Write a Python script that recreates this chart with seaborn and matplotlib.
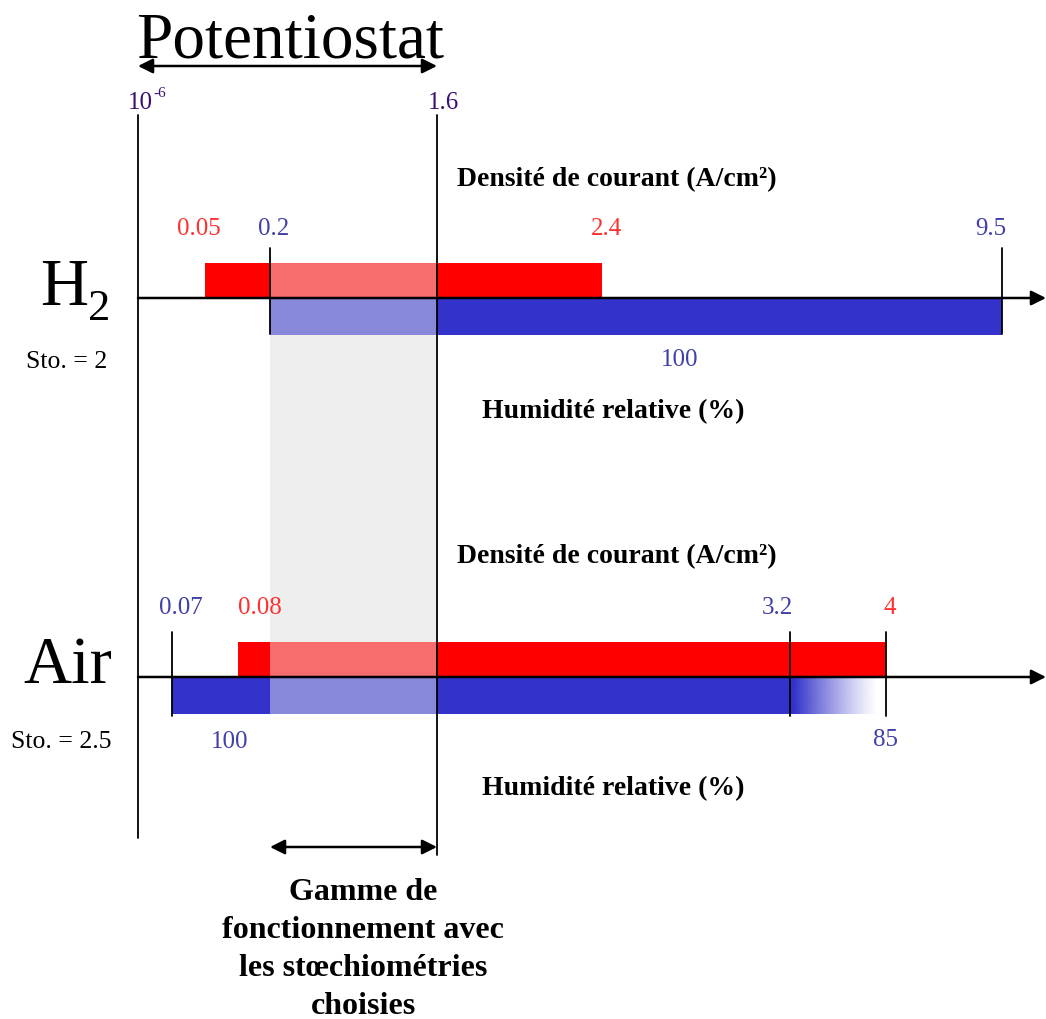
"""
Schéma : plages de fonctionnement H2 / Air (densité de courant et humidité)
"""
import numpy as np
import pandas as pd
import matplotlib
import matplotlib.pyplot as plt
import seaborn as sns

sns.set_theme(style="white")
matplotlib.rcParams['font.family'] = ['Liberation Serif', 'DejaVu Serif']
matplotlib.rcParams['text.color'] = 'black'

# valeurs (texte) affichées sur le schéma
gaz = ["H2", "Air"]
stoechio = ["2", "2.5"]
courant_rouge = [("0.05", "2.4"), ("0.08", "4")]      # A/cm²
courant_bleu = [("0.2", "9.5"), ("0.07", "3.2")]       # A/cm²
humidite = [("100", None), ("100", "85")]              # %
potentiostat = ("10", "-6", "1.6")

# position schématique de chaque valeur sur l'axe (pixels)
pos_rouge = [(205, 602), (238, 886)]
pos_bleu = [(270, 1002), (172, 790)]
pos_fondu = [None, 886]          # fin du dégradé bleu (Air)
x_min, x_max = 138, 437          # bornes du potentiostat
gamme = (270, 437)               # gamme de fonctionnement choisie
y_axe = [298, 677]

ROUGE = '#ff0000'
BLEU = '#3333cc'
TXT_ROUGE = '#ff3030'
TXT_BLEU = '#4040a8'
TXT_VIOLET = '#3a1070'

df = pd.DataFrame({
    'gaz': gaz,
    'y': y_axe,
    'r0': [p[0] for p in pos_rouge], 'r1': [p[1] for p in pos_rouge],
    'b0': [p[0] for p in pos_bleu], 'b1': [p[1] for p in pos_bleu],
})

fig = plt.figure(figsize=(10.46, 10.19), dpi=100)
ax = fig.add_axes([0, 0, 1, 1])

bar_h = 35
arrow_kw = dict(arrowstyle='<|-|>', color='black', lw=1.8, mutation_scale=22,
                shrinkA=0, shrinkB=0)

# colonne grise (gamme choisie)
ax.add_patch(plt.Rectangle((gamme[0], y_axe[0] - bar_h), gamme[1] - gamme[0],
                           y_axe[1] + bar_h + 2 - (y_axe[0] - bar_h),
                           color='#eeeeee', lw=0, zorder=0))

# barres rouges (au-dessus de l'axe) et bleues (en dessous)
ax.barh(df['y'] - bar_h / 2, df['r1'] - df['r0'], left=df['r0'], height=bar_h,
        color=ROUGE, lw=0, zorder=1)
ax.barh(df['y'] + bar_h / 2 + 1, df['b1'] - df['b0'], left=df['b0'], height=bar_h + 2,
        color=BLEU, lw=0, zorder=1)

# dégradé bleu -> blanc pour l'air
for i, xf in enumerate(pos_fondu):
    if xf is None:
        continue
    x0 = pos_bleu[i][1]
    grad = np.zeros((1, 256, 4))
    grad[..., :3] = matplotlib.colors.to_rgb(BLEU)
    t = np.linspace(0, 1, 256)
    grad[0, :, 3] = np.clip(1.05 - t * 1.1, 0, 1) ** 1.2
    ax.imshow(grad, extent=(x0, xf - 4, y_axe[i] + bar_h + 2, y_axe[i]),
              aspect='auto', zorder=1, interpolation='bilinear')

# voile clair sur les barres dans la gamme choisie
ax.add_patch(plt.Rectangle((gamme[0], y_axe[0] - bar_h), gamme[1] - gamme[0],
                           y_axe[1] + bar_h + 2 - (y_axe[0] - bar_h),
                           color='#eeeeee', alpha=0.46, lw=0, zorder=2))

# axes horizontaux avec flèche
for y in y_axe:
    ax.annotate('', xy=(1046, y), xytext=(x_min, y),
                arrowprops=dict(arrowstyle='-|>', color='black', lw=1.8,
                                mutation_scale=22, shrinkA=0, shrinkB=0), zorder=4)

# verticales du potentiostat
ax.plot([x_min, x_min], [115, 838], color='black', lw=1.3, zorder=4)
ax.plot([x_max, x_max], [115, 855], color='black', lw=1.3, zorder=4)

# petites graduations
ax.plot([270, 270], [248, 334], color='black', lw=1.3, zorder=4)
ax.plot([1002, 1002], [248, 334], color='black', lw=1.3, zorder=4)
for x in (172, 790, 886):
    ax.plot([x, x], [632, 716], color='black', lw=1.3, zorder=4)

# flèches Potentiostat et gamme
ax.annotate('', xy=(x_max, 66), xytext=(x_min, 66), arrowprops=arrow_kw)
ax.annotate('', xy=(gamme[1], 847), xytext=(gamme[0], 847), arrowprops=arrow_kw)

# textes
ax.text(290, 57, 'Potentiostat', fontsize=47, ha='center', va='baseline')
ax.text(140, 109, potentiostat[0], fontsize=18, color=TXT_VIOLET, ha='center', va='baseline')
ax.text(153, 97, potentiostat[1], fontsize=11, color=TXT_VIOLET, ha='left', va='baseline')
ax.text(443, 109, potentiostat[2], fontsize=18, color=TXT_VIOLET, ha='center', va='baseline')

y_dens = [186, 563]
y_nums = [235, 614]
y_sto = [368, 748]
y_hum = [418, 795]
x_sto = [67, 61]
for i in range(2):
    ax.text(617, y_dens[i], 'Densité de courant (A/cm²)', fontsize=20,
            fontweight='bold', ha='center', va='baseline')
    ax.text(613, y_hum[i], 'Humidité relative (%)', fontsize=20,
            fontweight='bold', ha='center', va='baseline')
    ax.text(x_sto[i], y_sto[i], f'Sto. = {stoechio[i]}', fontsize=18.5,
            ha='center', va='baseline')

# H2 / Air
ax.text(40, 305, 'H', fontsize=48, ha='left', va='baseline')
ax.text(88, 320, '2', fontsize=32, ha='left', va='baseline')
ax.text(68, 683, 'Air', fontsize=48, ha='center', va='baseline')

# valeurs H2
fs = 18
ax.text(199, y_nums[0], courant_rouge[0][0], fontsize=fs, color=TXT_ROUGE, ha='center', va='baseline')
ax.text(274, y_nums[0], courant_bleu[0][0], fontsize=fs, color=TXT_BLEU, ha='center', va='baseline')
ax.text(606, y_nums[0], courant_rouge[0][1], fontsize=fs, color=TXT_ROUGE, ha='center', va='baseline')
ax.text(991, y_nums[0], courant_bleu[0][1], fontsize=fs, color=TXT_BLEU, ha='center', va='baseline')
ax.text(680, y_sto[0] - 2, humidite[0][0], fontsize=fs, color=TXT_BLEU, ha='center', va='baseline')

# valeurs Air
ax.text(181, y_nums[1], courant_bleu[1][0], fontsize=fs, color=TXT_BLEU, ha='center', va='baseline')
ax.text(260, y_nums[1], courant_rouge[1][0], fontsize=fs, color=TXT_ROUGE, ha='center', va='baseline')
ax.text(777, y_nums[1], courant_bleu[1][1], fontsize=fs, color=TXT_BLEU, ha='center', va='baseline')
ax.text(890, y_nums[1], courant_rouge[1][1], fontsize=fs, color=TXT_ROUGE, ha='center', va='baseline')
ax.text(230, y_sto[1], humidite[1][0], fontsize=fs, color=TXT_BLEU, ha='center', va='baseline')
ax.text(885, y_sto[1] - 2, humidite[1][1], fontsize=fs, color=TXT_BLEU, ha='center', va='baseline')

# légende de la gamme
lignes = ['Gamme de', 'fonctionnement avec', 'les stœchiométries', 'choisies']
for k, l in enumerate(lignes):
    ax.text(363, 900 + 38 * k, l, fontsize=23, fontweight='bold',
            ha='center', va='baseline')

ax.set_xlim(0, 1046)
ax.set_ylim(1019, 0)
ax.axis('off')

plt.savefig('out.png', dpi=100)
